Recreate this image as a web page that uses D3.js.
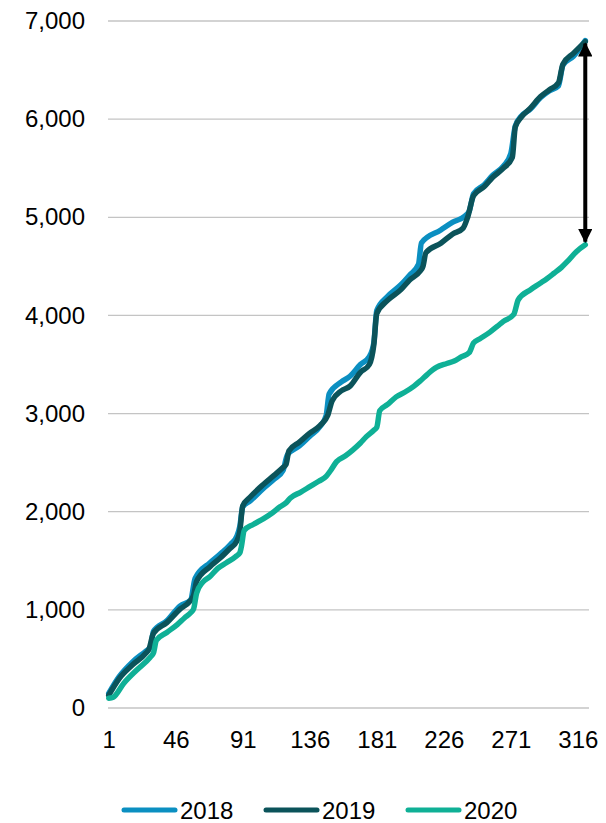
<!DOCTYPE html>
<html>
<head>
<meta charset="utf-8">
<script src="https://cdn.jsdelivr.net/npm/d3@7"></script>
<style>
  body { margin: 0; background: #fff; }
  text { font-family: "Liberation Sans", Arial, sans-serif; }
</style>
</head>
<body>
<div id="chart"></div>
<script>
// series names and colours
var seriesNames = ["2018", "2019", "2020"];
var seriesColors = ["#0b8fc1", "#0b535a", "#0fb096"];

// cumulative values, [day, value]
var data_2018 = [
  [1,150],[8,320],[17,470],[26,580],[29,620],[31,780],[40,890],[49,1040],[56,1100],[59,1320],
  [69,1480],[76,1570],[83,1670],[87,1750],[89,1850],[91,2050],[96,2110],[105,2240],[112,2330],
  [118,2420],[121,2580],[129,2670],[136,2770],[143,2870],[147,2980],[149,3200],[157,3320],
  [163,3380],[170,3500],[176,3580],[179,3720],[181,4050],[188,4190],[197,4310],[203,4410],
  [209,4520],[211,4740],[224,4870],[232,4950],[240,5010],[243,5060],[246,5240],[253,5330],
  [259,5430],[266,5520],[271,5650],[274,5930],[278,6030],[284,6100],[291,6220],[297,6290],
  [303,6340],[306,6550],[313,6640],[321,6800]
];
var data_2019 = [
  [1,130],[8,300],[17,440],[26,560],[28,600],[31,760],[40,870],[49,1010],[55,1080],[58,1150],
  [60,1290],[69,1440],[76,1530],[82,1620],[87,1700],[89,1800],[91,2060],[96,2150],[105,2280],
  [112,2370],[118,2450],[120,2480],[122,2620],[129,2710],[136,2800],[143,2880],[148,2980],
  [151,3130],[157,3230],[163,3280],[170,3420],[176,3500],[179,3700],[181,4020],[188,4150],
  [197,4260],[203,4360],[210,4450],[212,4500],[214,4640],[224,4735],[232,4830],[239,4890],
  [242,5000],[246,5220],[253,5310],[259,5410],[266,5500],[272,5610],[274,5920],[278,6020],
  [284,6110],[291,6230],[297,6300],[303,6370],[306,6560],[313,6670],[321,6790]
];
var data_2020 = [
  [1,100],[4,110],[11,250],[20,390],[29,520],[31,560],[33,690],[40,770],[47,850],[52,920],
  [56,970],[58,1010],[60,1170],[64,1280],[69,1340],[74,1420],[80,1480],[86,1540],[89,1580],
  [90,1640],[92,1810],[98,1870],[105,1930],[111,1990],[116,2050],[120,2090],[123,2140],
  [130,2200],[136,2255],[142,2310],[147,2360],[150,2420],[154,2510],[160,2570],[165,2630],
  [170,2700],[174,2765],[179,2830],[181,2860],[183,3030],[188,3090],[194,3170],[200,3220],
  [206,3280],[210,3330],[215,3400],[221,3470],[228,3510],[233,3535],[238,3580],[243,3620],
  [246,3720],[250,3760],[257,3830],[262,3890],[266,3940],[273,4010],[276,4160],[284,4260],
  [290,4320],[293,4350],[300,4430],[305,4490],[309,4550],[315,4650],[321,4720]
];

// axis ticks
var xTicks = [1, 46, 91, 136, 181, 226, 271, 316];
var yTicks = [0, 1000, 2000, 3000, 4000, 5000, 6000, 7000];

// gap arrow: day, top value, bottom value
var arrowDay = 321;
var arrowFrom = 6790;
var arrowTo = 4720;

var allData = [data_2018, data_2019, data_2020];

var svg = d3.select("#chart")
  .append("svg")
  .attr("width", 606)
  .attr("height", 823);

var x = d3.scaleLinear().domain([0.5, 323.5]).range([108, 589]);
var y = d3.scaleLinear().domain([0, 7000]).range([708, 21]);

// gridlines
svg.append("g")
  .selectAll("line")
  .data(yTicks)
  .enter()
  .append("line")
    .attr("x1", x.range()[0])
    .attr("x2", x.range()[1])
    .attr("y1", function (d) { return y(d); })
    .attr("y2", function (d) { return y(d); })
    .attr("stroke", "#c4c4c4")
    .attr("stroke-width", 1.3);

// y axis labels
var yAxis = d3.axisLeft(y).tickValues(yTicks).tickSize(0).tickPadding(0).tickFormat(d3.format(","));
var gy = svg.append("g")
  .attr("transform", "translate(85,0)")
  .call(yAxis);
gy.select(".domain").remove();
gy.selectAll("text")
  .style("font-size", "24px")
  .attr("fill", "#000");

// x axis labels
var xAxis = d3.axisBottom(x).tickValues(xTicks).tickSize(0).tickPadding(0);
var gx = svg.append("g")
  .attr("transform", "translate(0,731)")
  .call(xAxis);
gx.select(".domain").remove();
gx.selectAll("text")
  .style("font-size", "24px")
  .attr("fill", "#000");

// lines
var line = d3.line()
  .x(function (d) { return x(d[0]); })
  .y(function (d) { return y(d[1]); })
  .curve(d3.curveMonotoneX);

svg.append("g")
  .selectAll("path")
  .data(allData)
  .enter()
  .append("path")
    .attr("d", line)
    .attr("fill", "none")
    .attr("stroke", function (d, i) { return seriesColors[i]; })
    .attr("stroke-width", 5.5)
    .attr("stroke-linejoin", "round")
    .attr("stroke-linecap", "round");

// double headed arrow
var defs = svg.append("defs");
defs.append("marker")
  .attr("id", "head")
  .attr("viewBox", "0 0 10 10")
  .attr("refX", 9)
  .attr("refY", 5)
  .attr("markerWidth", 3.6)
  .attr("markerHeight", 3.6)
  .attr("markerUnits", "strokeWidth")
  .attr("orient", "auto-start-reverse")
  .append("path")
    .attr("d", "M0,0L10,5L0,10Z")
    .attr("fill", "#000");

svg.append("line")
  .attr("x1", x(arrowDay))
  .attr("x2", x(arrowDay))
  .attr("y1", y(arrowFrom) + 2)
  .attr("y2", y(arrowTo) - 3)
  .attr("stroke", "#000")
  .attr("stroke-width", 4)
  .attr("marker-start", "url(#head)")
  .attr("marker-end", "url(#head)");

// legend
var legendX = [121, 263, 405];
var legend = svg.append("g")
  .selectAll("g")
  .data(seriesNames)
  .enter()
  .append("g")
    .attr("transform", function (d, i) { return "translate(" + legendX[i] + ",810)"; });

legend.append("line")
  .attr("x1", 3)
  .attr("x2", 54)
  .attr("stroke", function (d, i) { return seriesColors[i]; })
  .attr("stroke-width", 5)
  .attr("stroke-linecap", "round");

legend.append("text")
  .attr("x", 59)
  .attr("y", 8.5)
  .style("font-size", "24px")
  .attr("fill", "#000")
  .text(function (d) { return d; });
</script>
</body>
</html>
